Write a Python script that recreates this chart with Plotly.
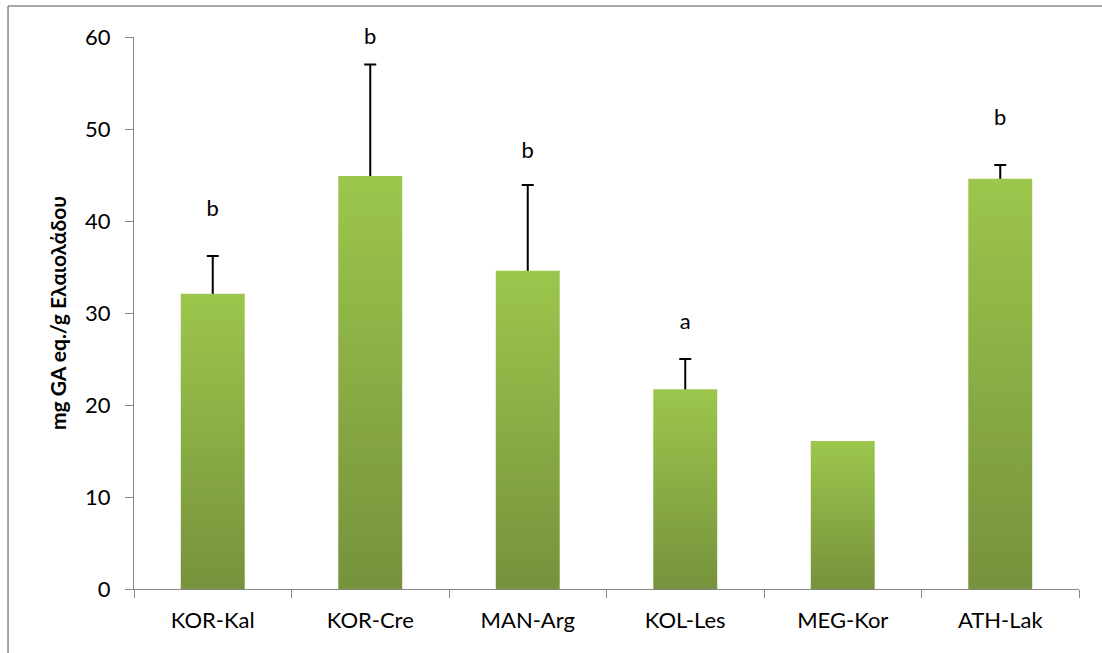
import plotly.graph_objects as go

# Sample groups and their measured phenolic content
categories = ["KOR-Kal", "KOR-Cre", "MAN-Arg", "KOL-Les", "MEG-Kor", "ATH-Lak"]
means = [32.1, 44.9, 34.6, 21.7, 16.1, 44.6]
errors = [4.1, 12.1, 9.3, 3.3, None, 1.5]
# Significance letters and the height at which each one sits
letters = ["b", "b", "b", "a", "", "b"]
letter_y = [41.1, 59.8, 47.5, 28.9, None, 51.0]
y_ticks = [0, 10, 20, 30, 40, 50, 60]

FONT = "Lato, 'Noto Sans', sans-serif"
AXIS_GREY = "#868686"
BAR_HALF = 0.203  # half bar width, in category units
GRADIENT = [[0, "#76923C"], [1, "#9CC64C"]]
positions = list(range(len(categories)))

# Only groups that have a spread get an error bar
with_err = [i for i, e in enumerate(errors) if e is not None]

fig = go.Figure()

# Error bars first, so the bars drawn afterwards hide their lower half
fig.add_trace(go.Scatter(
    x=[positions[i] for i in with_err],
    y=[means[i] for i in with_err],
    mode="markers", xaxis="x2",
    marker=dict(size=1, opacity=0),
    error_y=dict(type="data", symmetric=True,
                 array=[errors[i] for i in with_err],
                 color="black", thickness=2, width=6),
    hoverinfo="skip", showlegend=False,
))

# Bars with a vertical green gradient, drawn on an overlaid numeric axis
for i, v in zip(positions, means):
    fig.add_trace(go.Scatter(
        x=[i - BAR_HALF, i - BAR_HALF, i + BAR_HALF, i + BAR_HALF, i - BAR_HALF],
        y=[0, v, v, 0, 0],
        xaxis="x2", mode="none", fill="toself",
        fillgradient=dict(type="vertical", colorscale=GRADIENT),
        hoverinfo="skip", showlegend=False,
    ))

# Significance letters above each bar, on the category axis
fig.add_trace(go.Scatter(
    x=[c for c, t in zip(categories, letters) if t],
    y=[y for y, t in zip(letter_y, letters) if t],
    text=[t for t in letters if t],
    mode="text", textposition="middle center", cliponaxis=False,
    textfont=dict(family=FONT, size=22, color="black"),
    hoverinfo="skip", showlegend=False,
))

fig.update_layout(
    width=1102, height=653,
    margin=dict(l=134, r=23, t=37, b=64),
    paper_bgcolor="white", plot_bgcolor="white",
    font=dict(family=FONT, color="black"),
    xaxis=dict(
        type="category", categoryorder="array", categoryarray=categories,
        range=[-0.5, len(categories) - 0.5],
        tickson="boundaries", ticks="outside", ticklen=8, tickwidth=1,
        tickcolor=AXIS_GREY, showline=True, linecolor=AXIS_GREY, linewidth=1,
        showgrid=False, zeroline=False, ticklabelstandoff=12,
        tickfont=dict(family=FONT, size=22, color="black"),
    ),
    xaxis2=dict(
        overlaying="x", range=[-0.5, len(categories) - 0.5],
        visible=False, showgrid=False, zeroline=False,
    ),
    yaxis=dict(
        range=[0, 60], tickvals=y_ticks, ticks="outside", ticklen=8,
        tickwidth=1, tickcolor=AXIS_GREY, showline=True, linecolor=AXIS_GREY,
        linewidth=1, showgrid=False, zeroline=False,
        ticklabelstandoff=10,
        tickfont=dict(family=FONT, size=22, color="black"),
        title=dict(text="<b>mg GA eq./g Ελαιολάδου</b>", standoff=12,
                   font=dict(family=FONT, size=21, color="black")),
    ),
    # Chart frame: top and left edges (the rest runs off the page)
    shapes=[
        dict(type="line", xref="paper", yref="paper",
             x0=-0.1333, x1=1.0243, y0=1.0562, y1=1.0562,
             line=dict(color="#898989", width=1.5), layer="below"),
        dict(type="line", xref="paper", yref="paper",
             x0=-0.1333, x1=-0.1333, y0=-0.116, y1=1.0562,
             line=dict(color="#898989", width=1.5), layer="below"),
    ],
)

fig.write_html("out.html", config={"displayModeBar": False})
